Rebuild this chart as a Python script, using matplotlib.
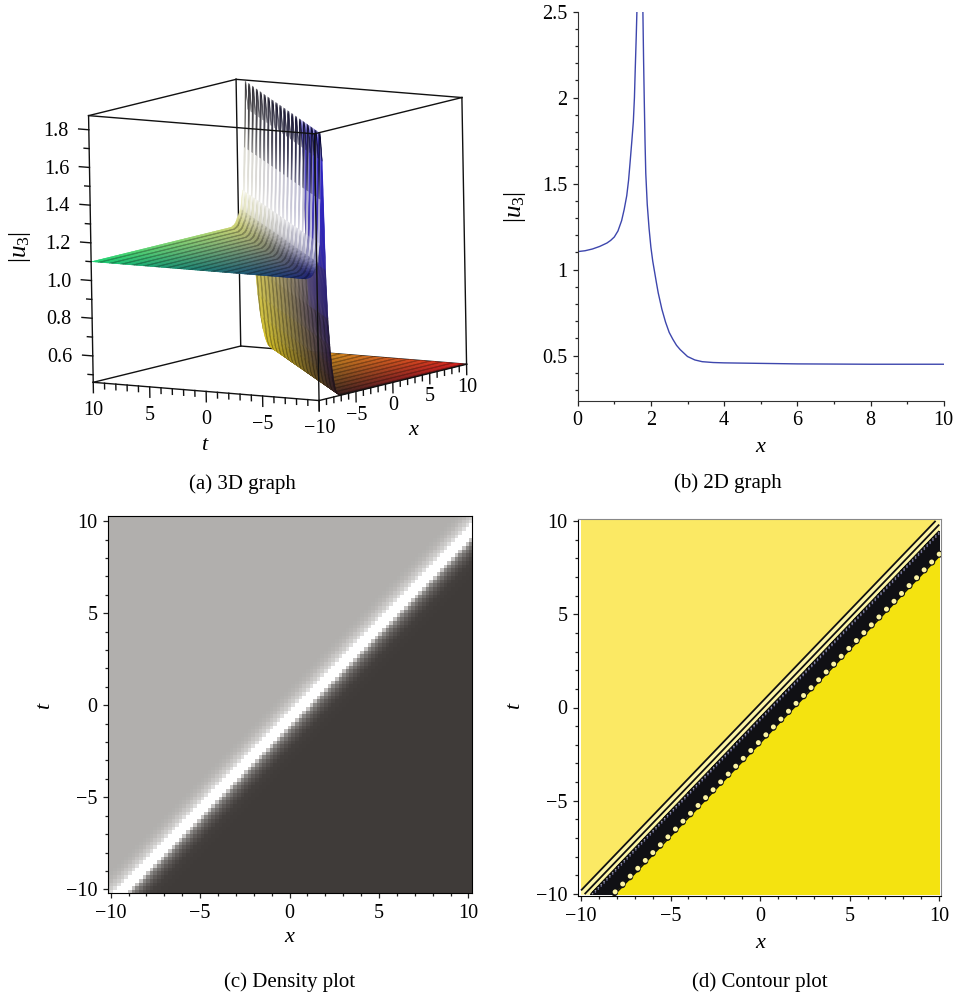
import numpy as np
import matplotlib
matplotlib.use("Agg")
import matplotlib.pyplot as plt
from matplotlib.colors import LinearSegmentedColormap
from mpl_toolkits.mplot3d import proj3d

W, H = 957, 998

# panel (b) curve
curve_x = [0, 0.2, 0.4, 0.6, 0.8, 0.9, 1.0, 1.1, 1.2, 1.27, 1.34, 1.39, 1.43, 1.48, 1.52, 1.55, 1.57, 1.6, 1.62,
           1.78, 1.8, 1.82, 1.84, 1.86, 1.9, 1.95, 2.0, 2.05, 2.09, 2.15, 2.2, 2.3, 2.4, 2.5, 2.6, 2.7, 2.8, 3.0, 3.2,
           3.4, 3.7, 4.0, 5.0, 6.0, 8.0, 10.0]
curve_y = [1.105, 1.11, 1.12, 1.135, 1.155, 1.17, 1.19, 1.225, 1.285, 1.35, 1.43, 1.52, 1.62, 1.75, 1.86, 2.0, 2.15, 2.36, 2.52,
           2.52, 2.22, 1.97, 1.74, 1.56, 1.38, 1.24, 1.13, 1.05, 1.0, 0.925, 0.865, 0.77, 0.695, 0.635, 0.595, 0.56, 0.535, 0.495, 0.475,
           0.465, 0.46, 0.458, 0.455, 0.452, 0.45, 0.45]

# sampled |u3| across the wave, one value per 0.2 of x - t
band = [1.10, 1.10, 1.10, 1.10, 1.10, 1.105, 1.11, 1.12, 1.14, 1.155, 1.19, 1.29, 1.52, 1.87, 1.72, 1.14,
        0.88, 0.74, 0.63, 0.56, 0.51, 0.48, 0.47, 0.46, 0.458, 0.455, 0.452, 0.45]
band_peak = 13
band_offset = 9  # x - t = 0 falls on this band entry
grid = np.arange(-50, 51) / 5

t_ticks_major = [10, 5, 0, -5, -10]
x_ticks_major = [-5, 0, 5, 10]
z_ticks_major = [0.6, 0.8, 1.0, 1.2, 1.4, 1.6, 1.8]
z_labels = ["0.6", "0.8", "1.0", "1.2", "1.4", "1.6", "1.8"]
captions = ["(a) 3D graph", "(b) 2D graph", "(c) Density plot", "(d) Contour plot"]

plt.rcParams["font.family"] = ["Liberation Serif", "DejaVu Serif"]
plt.rcParams["mathtext.fontset"] = "custom"
plt.rcParams["mathtext.rm"] = "Liberation Serif"
plt.rcParams["mathtext.it"] = "Liberation Serif:italic"
FS = 14.5
CAP = 15
LAB = 16


def box(left, top, right, bottom):
    return [left / W, 1 - bottom / H, (right - left) / W, (bottom - top) / H]


def fig_text(px, py, s, size=LAB, **kw):
    fig.text(px / W, 1 - py / H, s, ha="center", va="center", fontsize=size, **kw)


def label_3d(ax, x, y, z, s, ha="center"):
    # 3D text ends up in odd places for layout checks, so place it on the figure
    xp, yp, _ = proj3d.proj_transform(x, y, z, ax.get_proj())
    fx, fy = fig.transFigure.inverted().transform(ax.transData.transform((xp, yp)))
    fig.text(fx, fy, s, ha=ha, va="center", fontsize=FS)


def style_2d(ax, xmajor, xlabels, ymajor, ylabels, xminor, yminor, color="#222222"):
    ax.set_xticks(xmajor, xlabels)
    ax.set_yticks(ymajor, ylabels)
    ax.set_xticks(xminor, minor=True)
    ax.set_yticks(yminor, minor=True)
    ax.tick_params(which="major", length=3.6, width=0.9, labelsize=FS, pad=4, color=color)
    ax.tick_params(which="minor", length=2.0, width=0.9, color=color)


fig = plt.figure(figsize=(W / 100, H / 100), dpi=100)

# build the surface from the band by lookup, no interpolation
X, T = np.meshgrid(grid, grid)
idx = np.clip(np.round((X - T) * 5).astype(int) + band_offset, 0, len(band) - 1)
Z = np.array(band)[idx]

# (a) 3D
ax = fig.add_axes(box(-10, -32.5, 550, 527.5), projection="3d", computed_zorder=False)
ax.set_proj_type("ortho")
ax.set_box_aspect((1, 1, 1), zoom=0.81)
ax.view_init(elev=8.6, azim=-146.7, roll=1.0)
ax.set_xlim(-10, 10)
ax.set_ylim(-10, 10)
zlo, zhi = 0.46, 1.875
ax.set_zlim(zlo, zhi)
ax.set_xticks([])
ax.set_yticks([])
ax.set_zticks([])
ax.set_axis_off()
ax.patch.set_alpha(0)

far_wall = (idx == band_peak + 1) | (idx == band_peak + 2)
rgb = 0.12 + 0.72 * np.dstack([(X + 10) / 20, (T + 10) / 20, np.clip((Z - 0.45) / 1.42, 0, 1)])
fade = np.clip((Z - 1.12) / 0.12, 0, 1) * np.clip((1.72 - Z) / 0.25, 0, 1)
fade[idx > band_peak] = 0
rgb = rgb + (1 - rgb) * fade[..., None] * 0.9
stripe = (np.arange(len(grid)) % 5 < 2)[:, None] * np.ones_like(Z, dtype=bool)
dark = (1 - 0.3 * (1 - fade)) - 0.45 * np.clip((Z - 1.5) / 0.3, 0, 1)
dark[far_wall] = 1
rgb = np.where(stripe[..., None], rgb * dark[..., None], rgb)
# comb of the ridge: gaps between the mesh lines, far wall open except near the front
alpha = np.ones_like(Z)
alpha[(~stripe) & (Z > 1.2)] = 0
alpha[far_wall] = 0
alpha[far_wall & (T < -5)] = 1
colors = np.dstack([np.clip(rgb, 0, 1), alpha])

edge_kw = dict(color="#111111", lw=1.0, clip_on=False)
back_edges = [((-10, 10), (10, 10), (zlo, zlo)), ((10, 10), (10, -10), (zlo, zlo)),
              ((-10, 10), (10, 10), (zhi, zhi)), ((10, 10), (10, -10), (zhi, zhi)),
              ((10, 10), (10, 10), (zlo, zhi))]
front_edges = [((-10, -10), (10, -10), (zlo, zlo)), ((-10, 10), (-10, -10), (zlo, zlo)),
               ((-10, -10), (10, -10), (zhi, zhi)), ((-10, 10), (-10, -10), (zhi, zhi)),
               ((-10, -10), (-10, -10), (zlo, zhi)), ((-10, -10), (10, 10), (zlo, zhi)),
               ((10, 10), (-10, -10), (zlo, zhi))]
for ex, ey, ez in back_edges:
    ax.plot(ex, ey, ez, zorder=1, **edge_kw)
ax.plot_surface(X, T, np.clip(Z, zlo, zhi), facecolors=colors, rstride=1, cstride=1, shade=False,
                linewidth=0.25, antialiased=True, zorder=2)
for ex, ey, ez in front_edges:
    ax.plot(ex, ey, ez, zorder=3, **edge_kw)

# ticks of the 3D box
for v in range(-10, 11):
    d = 0.055 if v % 5 == 0 else 0.03
    ax.plot((-10, -10), (v, v), (zlo, zlo - d), zorder=3, **edge_kw)
    ax.plot((v, v), (-10, -10), (zlo, zlo - d), zorder=3, **edge_kw)
for v in np.arange(5, 19) / 10:
    d = 0.9 if round(v * 10) % 2 == 0 else 0.45
    ax.plot((-10, -10), (10, 10 + d), (v, v), zorder=3, **edge_kw)

ax.apply_aspect()
for v in t_ticks_major:
    label_3d(ax, -10, v, zlo - 0.15, str(v).replace("-", "\u2212"))
for v in x_ticks_major:
    label_3d(ax, v, -10, zlo - 0.125, str(v).replace("-", "\u2212"))
for v, lab in zip(z_ticks_major, z_labels):
    label_3d(ax, -10, 11.8, v - 0.018, lab, ha="right")
fig_text(204, 446, "t", style="italic")
fig_text(413, 431, "x", style="italic")
fig_text(20, 247, "$|u_3|$", size=18, rotation=90)
fig_text(242, 484, captions[0], size=CAP)

# (b) 2D
ax = fig.add_axes(box(577.7, 11.7, 943.7, 400.7))
ax.plot(curve_x, curve_y, color="#3d46ad", lw=1.0)
ax.set_xlim(0, 10)
ax.set_ylim(0.238, 2.5)
ax.spines["top"].set_visible(False)
ax.spines["right"].set_visible(False)
for side in ("left", "bottom"):
    ax.spines[side].set_color("#333333")
style_2d(ax, [0, 2, 4, 6, 8, 10], ["0", "2", "4", "6", "8", "10"],
         [0.5, 1, 1.5, 2, 2.5], ["0.5", "1", "1.5", "2", "2.5"],
         [1, 3, 5, 7, 9], [v / 10 for v in range(3, 25) if v % 5])
fig_text(760, 447, "x", style="italic")
fig_text(515, 207, "$|u_3|$", size=18, rotation=90)
fig_text(728, 483, captions[1], size=CAP)

tick5 = [-10, -5, 0, 5, 10]
tick5_lab = ["\u221210", "\u22125", "0", "5", "10"]
minor1 = [v for v in range(-10, 11) if v % 5]

# (c) density
ax = fig.add_axes(box(108, 515.7, 472, 893))
density_cmap = LinearSegmentedColormap.from_list("dens", [(0, "#3f3b39"), (0.8125, "#b0aeac"), (1, "#ffffff")])
ax.imshow(Z, origin="lower", extent=(-10.25, 10.25, -10.25, 10.25), cmap=density_cmap, vmin=0.45, vmax=1.25,
          interpolation="nearest", aspect="auto")
ax.set_xlim(-10.15, 10.2)
ax.set_ylim(-10.2, 10.3)
style_2d(ax, tick5, tick5_lab, tick5, tick5_lab, minor1, minor1)
fig_text(289, 937, "x", style="italic")
fig_text(45, 706, "t", style="italic", rotation=90)
fig_text(290, 982, captions[2], size=CAP)

# (d) contour, the far side of the peak is unfolded so levels run in one direction
ax = fig.add_axes(box(578, 519, 941, 896))
Fz = np.where(idx <= band_peak, Z, 2 * 1.87 - Z)
ax.contourf(grid, grid, Fz, levels=[0, 1.14, 1.46, 3.14, 9], colors=["#fbe964", "#fdf5a6", "#101014", "#f4e310"])
ax.contour(grid, grid, Fz, levels=[1.14, 1.19, 1.46, 3.14], colors="#101010", linewidths=1.3)
ax.contour(grid, grid, Fz, levels=[1.56, 1.68], colors=["#a4a4b4", "#7070a0"], linewidths=1.0,
           linestyles=[(0, (1, 2))])
rim = ax.contour(grid, grid, Fz, levels=[3.1], colors="#101010", linewidths=5.2,
                 linestyles=[(0, (0.01, 1.5))])
rim.set_capstyle("round")
dots = ax.contour(grid, grid, Fz, levels=[3.1], colors="#fdf5a6", linewidths=3.6,
                  linestyles=[(0, (0.01, 2.167))])
dots.set_capstyle("round")
ax.set_xlim(-10.17, 10.1)
ax.set_ylim(-10.1, 10.1)
style_2d(ax, tick5, tick5_lab, tick5, tick5_lab, minor1, minor1)
ax.spines["top"].set_color("#888888")
ax.spines["right"].set_color("#888888")
fig_text(760, 943, "x", style="italic")
fig_text(515, 706, "t", style="italic", rotation=90)
fig_text(760, 982, captions[3], size=CAP)

fig.savefig("out.png", dpi=100)
